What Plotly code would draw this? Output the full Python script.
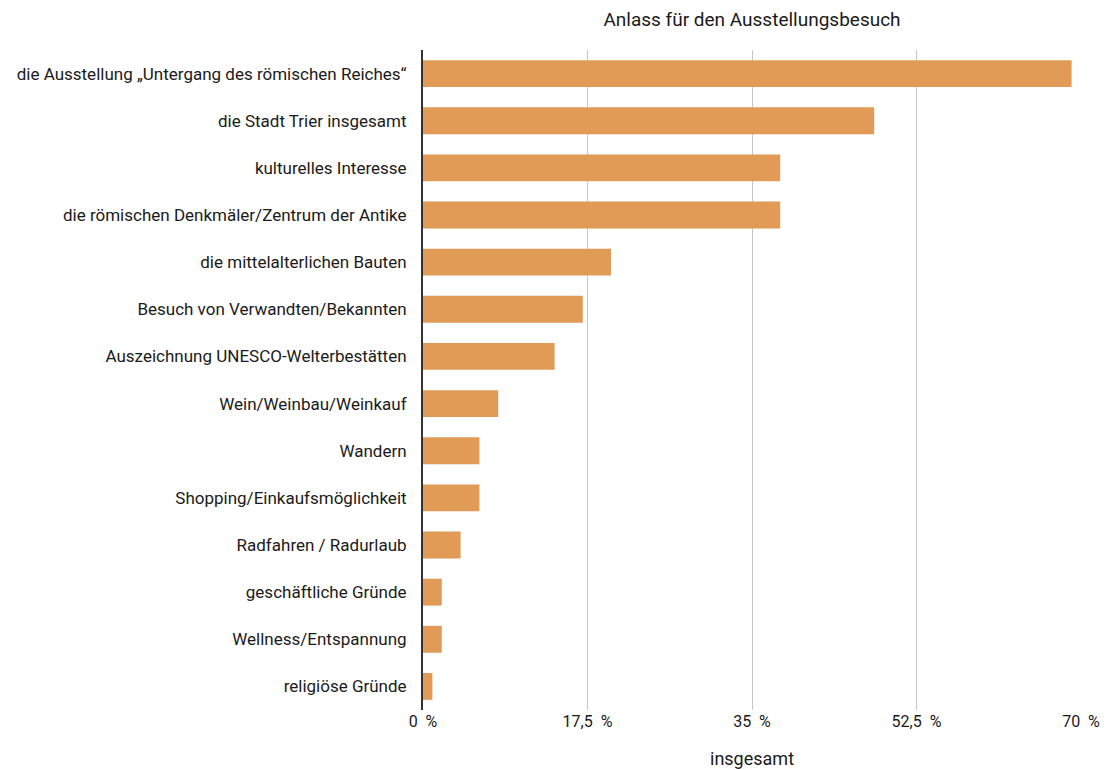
import plotly.graph_objects as go

# Reasons for visiting the exhibition (share of all respondents, %)
categories = [
    "die Ausstellung „Untergang des römischen Reiches“",
    "die Stadt Trier insgesamt",
    "kulturelles Interesse",
    "die römischen Denkmäler/Zentrum der Antike",
    "die mittelalterlichen Bauten",
    "Besuch von Verwandten/Bekannten",
    "Auszeichnung UNESCO-Welterbestätten",
    "Wein/Weinbau/Weinkauf",
    "Wandern",
    "Shopping/Einkaufsmöglichkeit",
    "Radfahren / Radurlaub",
    "geschäftliche Gründe",
    "Wellness/Entspannung",
    "religiöse Gründe",
]
values = [69, 48, 38, 38, 20, 17, 14, 8, 6, 6, 4, 2, 2, 1]

tick_vals = [0, 17.5, 35, 52.5, 70]
tick_text = ["0\u00a0\u00a0%", "17,5\u00a0\u00a0%", "35\u00a0\u00a0%", "52,5\u00a0\u00a0%", "70\u00a0\u00a0%"]

FONT = "Roboto, 'Open Sans', sans-serif"
TEXT = "#1a1a1a"

fig = go.Figure(
    go.Bar(
        x=values,
        y=categories,
        orientation="h",
        marker=dict(color="#E19B57", line=dict(width=0)),
        width=0.57,
        hoverinfo="x+y",
    )
)

fig.update_layout(
    width=1117,
    height=770,
    margin=dict(l=423, r=36, t=50, b=60),
    paper_bgcolor="white",
    plot_bgcolor="white",
    showlegend=False,
    font=dict(family=FONT, size=16, color=TEXT),
    title=dict(
        text="Anlass für den Ausstellungsbesuch",
        x=0.5,
        xref="paper",
        xanchor="center",
        y=1 - 19 / 770,
        yref="container",
        yanchor="middle",
        font=dict(family=FONT, size=19, color=TEXT),
    ),
    annotations=[
        dict(
            text="insgesamt",
            x=0.5,
            xref="paper",
            xanchor="center",
            y=-48 / 660,
            yref="paper",
            yanchor="middle",
            showarrow=False,
            font=dict(family=FONT, size=18, color=TEXT),
        )
    ],
)

fig.update_xaxes(
    range=[0, 70],
    tickvals=tick_vals,
    ticktext=tick_text,
    showgrid=True,
    gridcolor="#c4c4c4",
    gridwidth=1,
    zeroline=False,
    showline=False,
    ticks="",
    tickfont=dict(family=FONT, size=16, color=TEXT),
    automargin=False,
    fixedrange=True,
)

fig.update_yaxes(
    categoryorder="array",
    categoryarray=categories,
    autorange="reversed",
    showgrid=False,
    zeroline=False,
    showline=True,
    linecolor="#333333",
    linewidth=2,
    ticks="",
    ticklabelstandoff=11,
    tickfont=dict(family=FONT, size=17, color=TEXT),
    automargin=False,
    fixedrange=True,
)

fig.write_html("out.html")
